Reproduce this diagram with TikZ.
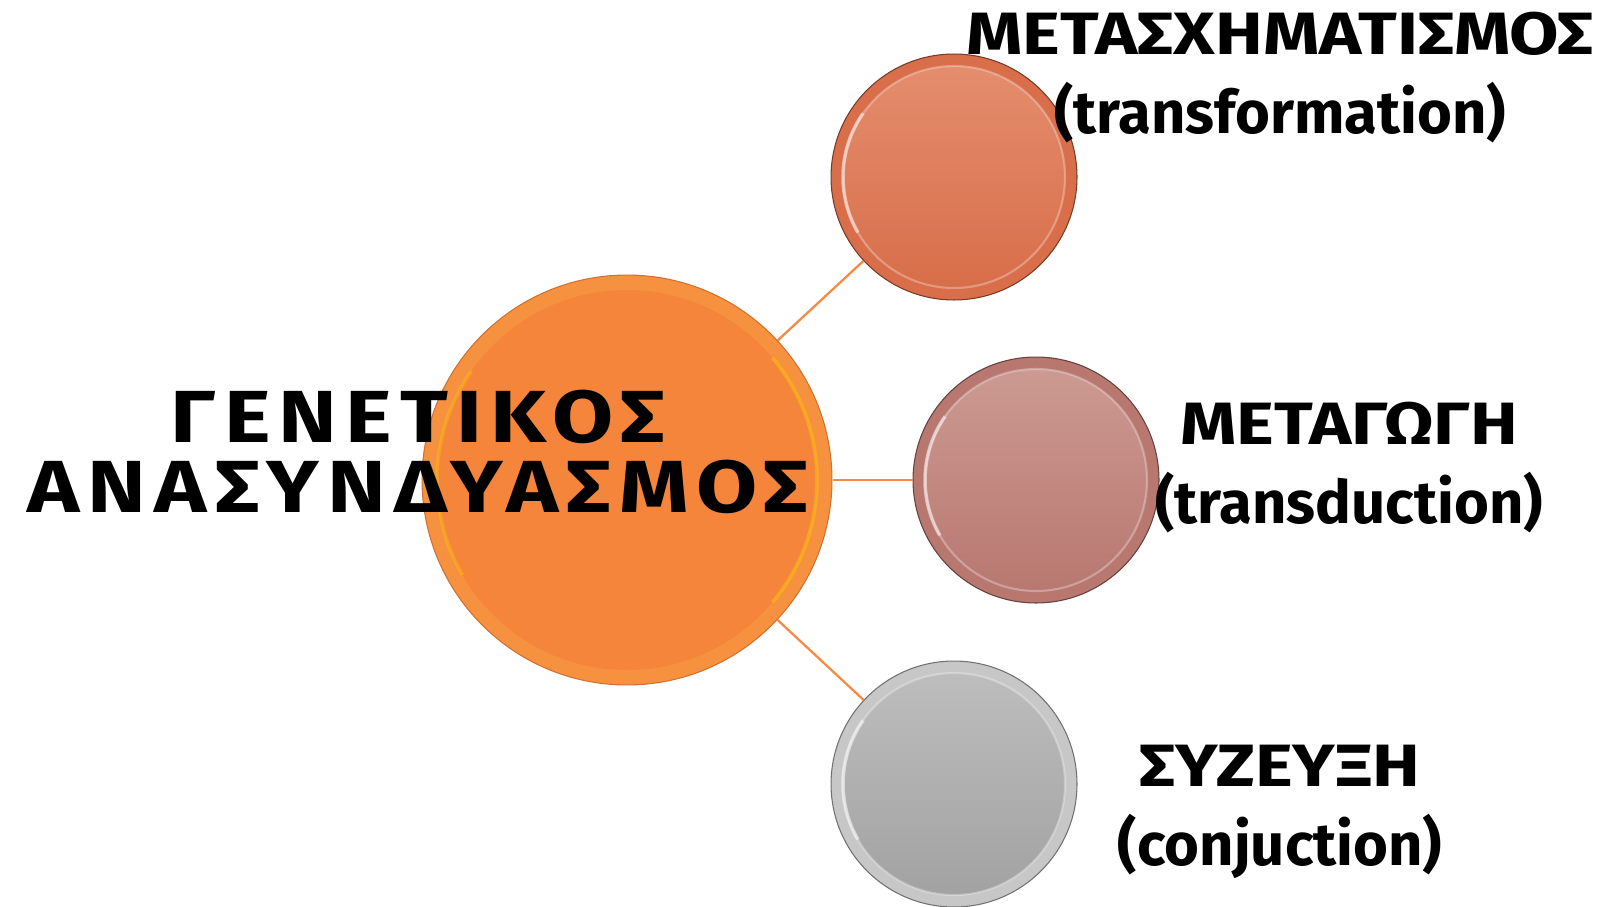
\documentclass[tikz,border=0pt]{standalone}
\usepackage{fontspec}
\setmainfont{Fira Sans}
\newfontfamily\greekwide[FakeStretch=1.2]{Fira Sans}
\definecolor{genorange}{HTML}{F5853A}
\definecolor{genrim}{HTML}{F6913F}
\definecolor{linkorange}{HTML}{F58B45}
\definecolor{trtop}{HTML}{E48D6D}
\definecolor{trbot}{HTML}{D86E4A}
\definecolor{tdtop}{HTML}{CC9A92}
\definecolor{tdbot}{HTML}{B87870}
\definecolor{cjtop}{HTML}{BDBDBD}
\definecolor{cjbot}{HTML}{A2A2A2}

\begin{document}
\begin{tikzpicture}[x=0.02cm,y=-0.02cm,
    ball/.style={circle,inner sep=0pt,minimum size=4.92cm,line width=0.6pt},
    bigball/.style={circle,inner sep=0pt,minimum size=8.2cm,line width=0.6pt},
    link/.style={draw=linkorange,line width=1.3pt},
    caption/.style={align=center,font=\fontsize{34}{45}\selectfont\bfseries}]
  \useasboundingbox (0,0) rectangle (1604,906);

  % circles
  \node[bigball,fill=genrim,draw=genorange!85!black] (gen) at (627,480) {};
  \node[ball,fill=trbot,draw=trbot!55!black] (trans) at (954,177) {};
  \node[ball,fill=tdbot,draw=tdbot!55!black] (transd) at (1036,480) {};
  \node[ball,fill=cjbot!60!white,draw=cjbot!70!black] (conj) at (954,784) {};

  % bevel
  \fill[genorange] (gen.center) circle (190);
  \draw[yellow!60!orange,opacity=0.5,line width=2pt] (gen.center) ++(-40:190) arc (-40:40:190);
  \draw[yellow!60!orange,opacity=0.4,line width=2pt] (gen.center) ++(150:190) arc (150:215:190);
  \shade[top color=trtop,bottom color=trbot] (trans.center) circle (111);
  \shade[top color=tdtop,bottom color=tdbot] (transd.center) circle (111);
  \shade[top color=cjtop,bottom color=cjbot] (conj.center) circle (111);
  \foreach \b in {trans,transd,conj}{
    \draw[white,opacity=0.3,line width=1.2pt] (\b.center) circle (111);
    \draw[white,opacity=0.5,line width=2pt] (\b.center) ++(150:111) arc (150:215:111);
  }

  % connectors
  \draw[link] (gen) -- (trans);
  \draw[link] (gen) -- (transd);
  \draw[link] (gen) -- (conj);

  % texts
  \node[align=center,font=\greekwide\fontsize{42}{40}\selectfont\bfseries\addfontfeature{LetterSpace=11}] (gentext) at (418,452)
    {ΓΕΝΕΤΙΚΟΣ\\ΑΝΑΣΥΝΔΥΑΣΜΟΣ};
  \node[caption] (transtext) at (1280,78) {{\greekwide ΜΕΤΑΣΧΗΜΑΤΙΣΜΟΣ}\\(transformation)};
  \node[caption] (transdtext) at (1349,468) {{\greekwide ΜΕΤΑΓΩΓΗ}\\(transduction)};
  \node[caption] (conjtext) at (1280,812) {{\greekwide ΣΥΖΕΥΞΗ}\\(conjuction)};
\end{tikzpicture}
\end{document}
